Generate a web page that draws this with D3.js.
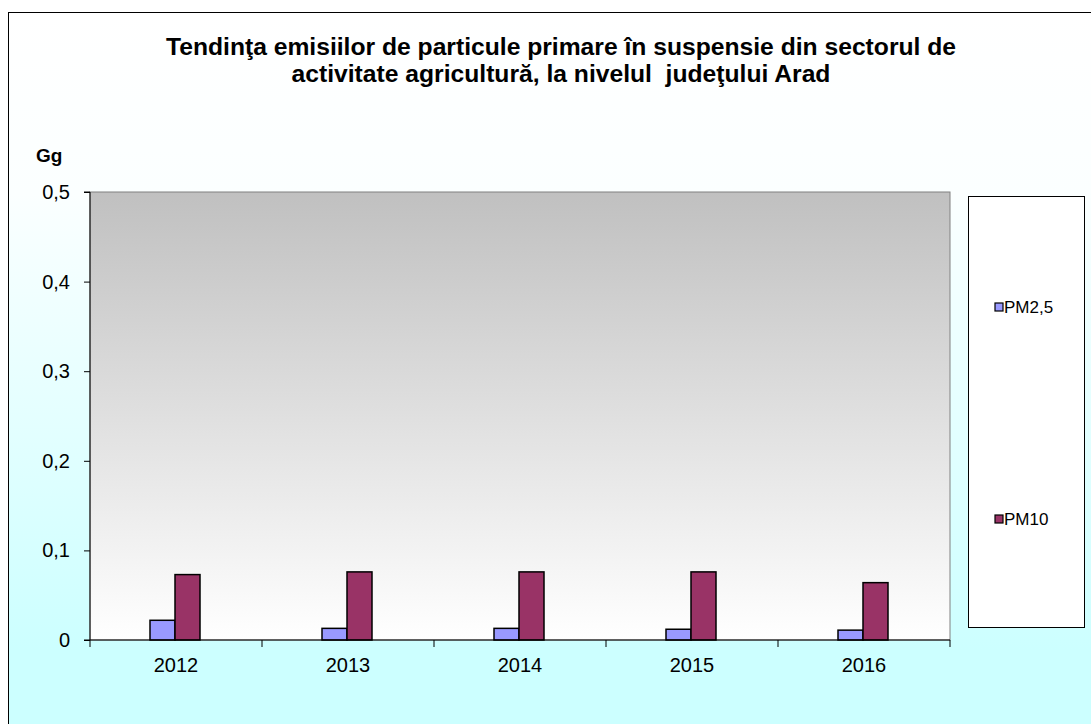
<!DOCTYPE html>
<html>
<head>
<meta charset="utf-8">
<script src="https://cdn.jsdelivr.net/npm/d3@7"></script>
<style>
  html, body { margin: 0; padding: 0; background: #fff; }
  svg { display: block; }
  text { font-family: Arial, "Liberation Sans", sans-serif; }
</style>
</head>
<body>
<script>
// Emisii de particule primare în suspensie, sector agricultură, județul Arad (Gg)
const years = ["2012", "2013", "2014", "2015", "2016"];
const seriesNames = ["PM2,5", "PM10"];
const pm25 = [0.022, 0.013, 0.013, 0.012, 0.011];
const pm10 = [0.073, 0.076, 0.076, 0.076, 0.064];
const yTicks = [0, 0.1, 0.2, 0.3, 0.4, 0.5];
const seriesColors = ["#9999ff", "#993366"];
const titleLines = [
  "Tendinţa emisiilor de particule primare în suspensie din sectorul de",
  "activitate agricultură, la nivelul  judeţului Arad"
];

const W = 1091, H = 724;
const plot = { left: 90, top: 192, right: 950, bottom: 640 };

const svg = d3.select("body").append("svg")
  .attr("width", W).attr("height", H);

const defs = svg.append("defs");
const bgGrad = defs.append("linearGradient")
  .attr("id", "bgGrad").attr("x1", 0).attr("y1", 0).attr("x2", 0).attr("y2", 1);
bgGrad.append("stop").attr("offset", "0%").attr("stop-color", "#ffffff");
bgGrad.append("stop").attr("offset", "25%").attr("stop-color", "#fbffff");
bgGrad.append("stop").attr("offset", "88%").attr("stop-color", "#ccffff");
bgGrad.append("stop").attr("offset", "100%").attr("stop-color", "#ccffff");

const plotGrad = defs.append("linearGradient")
  .attr("id", "plotGrad").attr("x1", 0).attr("y1", 0).attr("x2", 0).attr("y2", 1);
plotGrad.append("stop").attr("offset", "0%").attr("stop-color", "#c0c0c0");
plotGrad.append("stop").attr("offset", "100%").attr("stop-color", "#ffffff");

// chart area background and border
svg.append("rect")
  .attr("x", 8.5).attr("y", 12.5).attr("width", W).attr("height", H)
  .attr("fill", "url(#bgGrad)")
  .attr("stroke", "#000").attr("stroke-width", 1);

// title (two centred lines, widened slightly to the chart's title width)
const titleText = svg.append("text")
  .attr("x", 561).attr("y", 55)
  .attr("text-anchor", "middle")
  .attr("font-size", 23).attr("font-weight", "bold")
  .style("white-space", "pre");
const tspans = titleText.selectAll("tspan").data(titleLines).join("tspan")
  .attr("x", 561).attr("dy", (d, i) => i === 0 ? 0 : 27)
  .text(d => d);
const natural = tspans.nodes()[0].getComputedTextLength();
const stretch = 790 / natural;
tspans.each(function () {
  const len = this.getComputedTextLength();
  d3.select(this).attr("textLength", len * stretch).attr("lengthAdjust", "spacingAndGlyphs");
});

// unit label
svg.append("text")
  .attr("x", 36).attr("y", 162)
  .attr("font-size", 19).attr("font-weight", "bold")
  .text("Gg");

// scales
const x0 = d3.scaleBand().domain(years).range([plot.left, plot.right]);
const x1 = d3.scaleBand().domain(seriesNames).range([0, 50]);
const y = d3.scaleLinear().domain([0, 0.5]).range([plot.bottom, plot.top]);

// plot area
svg.append("rect")
  .attr("x", plot.left).attr("y", plot.top)
  .attr("width", plot.right - plot.left).attr("height", plot.bottom - plot.top)
  .attr("fill", "url(#plotGrad)")
  .attr("stroke", "#808080").attr("stroke-width", 1);

// bars
const series = [pm25, pm10];
const groups = svg.append("g").selectAll("g").data(years).join("g")
  .attr("transform", d => `translate(${x0(d) + x0.bandwidth() / 2 - 26},0)`);
groups.selectAll("rect")
  .data((d, i) => seriesNames.map((s, k) => ({ s, k, v: series[k][i] })))
  .join("rect")
  .attr("x", d => x1(d.s))
  .attr("y", d => y(d.v))
  .attr("width", x1.bandwidth())
  .attr("height", d => y(0) - y(d.v))
  .attr("fill", d => seriesColors[d.k])
  .attr("stroke", "#000").attr("stroke-width", 1.5);

// y axis
const yAxis = d3.axisLeft(y).tickValues(yTicks).tickSize(6).tickPadding(14)
  .tickFormat(d => d === 0 ? "0" : d3.format(".1f")(d).replace(".", ","));
const gy = svg.append("g").attr("transform", `translate(${plot.left},0)`).call(yAxis);
gy.select(".domain").attr("stroke", "#000").attr("d", `M-6,${plot.top}H0V${plot.bottom}H-6`);
gy.selectAll(".tick line").attr("stroke", "#000");
gy.selectAll(".tick text").attr("font-size", 20).attr("fill", "#000")
  .attr("font-family", "Arial, 'Liberation Sans', sans-serif");

// x axis with ticks at category boundaries
const gx = svg.append("g").attr("transform", `translate(0,${plot.bottom})`);
gx.append("line")
  .attr("x1", plot.left).attr("x2", plot.right)
  .attr("stroke", "#000").attr("stroke-width", 1.2);
const bounds = years.map(d => x0(d)).concat([plot.right]);
gx.selectAll("line.tk").data(bounds).join("line").attr("class", "tk")
  .attr("x1", d => d).attr("x2", d => d).attr("y1", 0).attr("y2", 7)
  .attr("stroke", "#000");
gx.selectAll("text").data(years).join("text")
  .attr("x", d => x0(d) + x0.bandwidth() / 2)
  .attr("y", 32)
  .attr("text-anchor", "middle")
  .attr("font-size", 20)
  .text(d => d);

// legend
const lg = svg.append("g");
lg.append("rect")
  .attr("x", 968.5).attr("y", 196.5).attr("width", 116).attr("height", 431)
  .attr("fill", "#fff").attr("stroke", "#000").attr("stroke-width", 1);
const legendY = [308, 520];
const items = lg.selectAll("g.item").data(seriesNames).join("g").attr("class", "item")
  .attr("transform", (d, i) => `translate(995,${legendY[i]})`);
items.append("rect")
  .attr("x", 0).attr("y", -5).attr("width", 8).attr("height", 8)
  .attr("fill", (d, i) => seriesColors[i])
  .attr("stroke", "#000").attr("stroke-width", 1.2);
items.append("text")
  .attr("x", 9).attr("y", 5)
  .attr("font-size", 17)
  .text(d => d);
</script>
</body>
</html>
